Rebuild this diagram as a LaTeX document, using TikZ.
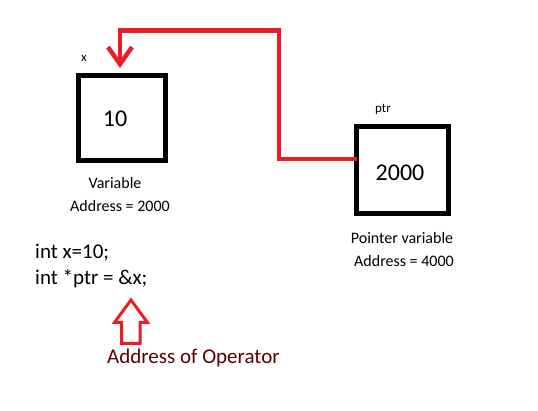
\documentclass[tikz,border=0pt]{standalone}
\usepackage{fontspec}
\setmainfont{Carlito}
\usetikzlibrary{arrows.meta}
\definecolor{pred}{RGB}{237,28,36}
\definecolor{opred}{RGB}{90,0,0}
\begin{document}
\begin{tikzpicture}[x=1pt,y=-1pt,
  membox/.style={draw=black,line width=5pt,inner sep=0pt,outer sep=0pt},
  valtext/.style={font=\fontsize{24}{28}\selectfont,inner sep=0pt,anchor=base},
  lbl/.style={font=\fontsize{16}{19}\selectfont,inner sep=0pt,anchor=base},
  smalllbl/.style={font=\fontsize{13}{15}\selectfont,inner sep=0pt,anchor=base},
  code/.style={font=\fontsize{21}{25}\selectfont,inner sep=0pt,anchor=base west},
  ptrline/.style={draw=pred,line width=4.5pt,line join=miter,
    -{Straight Barb[length=17pt,width=24pt,line join=miter]}},
  blockarrow/.style={draw=pred,line width=3pt,line join=miter}
]
\fill[white] (0,0) rectangle (538,411);
\useasboundingbox (0,0) rectangle (538,411);

% boxes
\node[membox,minimum width=87pt,minimum height=85pt] (xbox) at (122,118) {};
\node[membox,minimum width=92pt,minimum height=87pt] (ptrbox) at (402.5,170) {};

% values and names
\node[valtext] (xval) at (115,127) {10};
\node[valtext] (pval) at (400,181) {2000};
\node[smalllbl] (xname) at (84,62) {x};
\node[smalllbl] (pname) at (383,113) {ptr};

% labels
\node[lbl] (xl1) at (115,189) {Variable};
\node[lbl] (xl2) at (120,212) {Address = 2000};
\node[lbl] (pl1) at (402,244) {Pointer variable};
\node[lbl] (pl2) at (404,267) {Address = 4000};

% code
\node[code] (c1) at (35,259) {int x=10;};
\node[code] (c2) at (35,285) {int *ptr = \&x;};
\node[code,text=opred] (op) at (107,363) {Address of Operator};

% pointer connector
\coordinate (tip) at (120,68);
\draw[ptrline] ([yshift=11pt]ptrbox.west) -| (279,30.5) -| (tip);

% block arrow
\draw[blockarrow] (121.5,343.5) -- (121.5,322.5) -- (114.5,322.5) -- (131,300)
  -- (147.5,322.5) -- (140,322.5) -- (140,343.5) -- cycle;
\end{tikzpicture}
\end{document}
